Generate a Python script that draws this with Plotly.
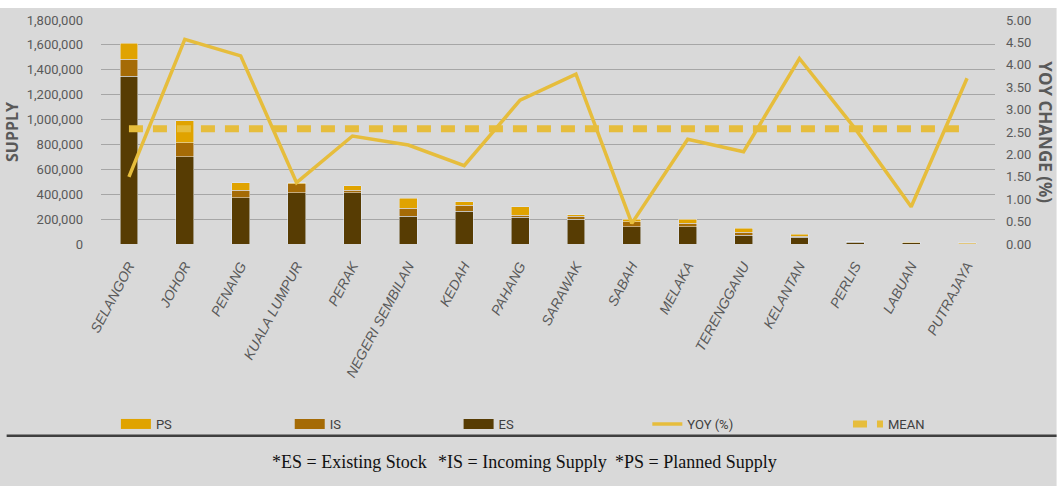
import plotly.graph_objects as go

states = ["SELANGOR", "JOHOR", "PENANG", "KUALA LUMPUR", "PERAK", "NEGERI SEMBILAN",
          "KEDAH", "PAHANG", "SARAWAK", "SABAH", "MELAKA", "TERENGGANU",
          "KELANTAN", "PERLIS", "LABUAN", "PUTRAJAYA"]
es = [1350000, 700000, 372000, 412000, 412000, 225000, 265000, 215000,
      200000, 140000, 140000, 72000, 54000, 15000, 10000, 3000]
is_ = [135000, 115000, 60000, 73000, 20000, 62000, 48000, 18000,
       25000, 40000, 27000, 22000, 10000, 3000, 2000, 1000]
ps = [130000, 175000, 62000, 8000, 35000, 80000, 27000, 67000,
      10000, 18000, 30000, 32000, 16000, 2000, 1000, 5000]
yoy = [1.50, 4.57, 4.20, 1.37, 2.41, 2.21, 1.75, 3.21,
       3.79, 0.46, 2.34, 2.06, 4.14, 2.57, 0.83, 3.70]
mean_value = 2.57
left_ticks = [0, 200000, 400000, 600000, 800000, 1000000, 1200000, 1400000, 1600000, 1800000]
right_ticks = [0, 0.5, 1, 1.5, 2, 2.5, 3, 3.5, 4, 4.5, 5]

C_PS = "#e0a300"
C_IS = "#a56b06"
C_ES = "#573c03"
C_LINE = "#e6bd3c"
GRAY = "#595959"
NARROW = "Liberation Sans Narrow, Arial Narrow, Roboto, sans-serif"

fig = go.Figure()
fig.add_trace(go.Bar(x=states, y=es, name="ES", marker_color=C_ES, showlegend=False))
fig.add_trace(go.Bar(x=states, y=is_, name="IS", marker_color=C_IS, showlegend=False))
fig.add_trace(go.Bar(x=states, y=ps, name="PS", marker_color=C_PS, showlegend=False))
fig.add_trace(go.Scatter(x=states, y=yoy, name="YOY (%)", mode="lines",
                         line=dict(color=C_LINE, width=3.5), yaxis="y2", legend="legend4"))
fig.add_trace(go.Scatter(x=states, y=[mean_value] * len(states), name="MEAN", mode="lines",
                         line=dict(color=C_LINE, width=7, dash="14px,10px"),
                         yaxis="y2", legend="legend5"))
# legend proxies for the bar series (wide flat swatches)
for nm, col, lg in [("PS", C_PS, "legend"), ("IS", C_IS, "legend2"), ("ES", C_ES, "legend3")]:
    fig.add_trace(go.Scatter(x=[None], y=[None], name=nm, mode="lines",
                             line=dict(color=col, width=10), legend=lg))

W0, W1, T0, T1 = 95, 995, 20, 244
def px(x):
    return (x - W0) / (W1 - W0)
def py(y):
    return (T1 - y) / (T1 - T0)

def leg(xpix):
    return dict(orientation="h", x=px(xpix - 10), y=py(424), xanchor="left", yanchor="middle",
                bgcolor="rgba(0,0,0,0)",
                font=dict(family=NARROW, size=13, color="#404040"))

foot_font = dict(family="Liberation Serif, Times New Roman", size=18, color="#111111")

fig.update_layout(
    width=1064, height=486,
    margin=dict(l=W0, r=1064 - W1, t=T0, b=486 - T1),
    paper_bgcolor="#d9d9d9", plot_bgcolor="#d9d9d9",
    barmode="stack", bargap=0.68,
    font=dict(family=NARROW, color=GRAY),
    xaxis=dict(tickangle=-62, tickvals=states,
               ticktext=["<i>" + s + "</i>" for s in states],
               tickfont=dict(family="Liberation Sans, Arial", size=14, color=GRAY),
               showgrid=False, showline=False, ticks="", ticklabelstandoff=10,
               range=[-0.5, 15.5]),
    yaxis=dict(range=[0, 1800000], tickvals=left_ticks, tickformat=",d",
               gridcolor="#a6a6a6", gridwidth=1, zeroline=False, showline=False,
               tickfont=dict(family=NARROW, size=13, color=GRAY), ticklabelstandoff=17,
               title=dict(text="<b>SUPPLY</b>", font=dict(family="Open Sans, Arial",
                                                          size=16, color=GRAY), standoff=4)),
    yaxis2=dict(range=[0, 5], tickvals=right_ticks, tickformat=".2f", overlaying="y",
                side="right", showgrid=False, zeroline=False, showline=False,
                tickfont=dict(family=NARROW, size=13, color=GRAY), ticklabelstandoff=10),
    legend=leg(120), legend2=leg(295), legend3=leg(465), legend4=leg(655), legend5=leg(857),
    shapes=[
        dict(type="rect", xref="paper", yref="paper", x0=px(-10), x1=px(1080),
             y0=py(8), y1=py(-10), fillcolor="white", line_width=0, layer="below"),
        dict(type="rect", xref="paper", yref="paper", x0=px(1057), x1=px(1080),
             y0=py(-10), y1=py(500), fillcolor="white", line_width=0, layer="below"),
        dict(type="line", xref="paper", yref="paper", x0=px(0), x1=px(1057),
             y0=py(435.7), y1=py(435.7), line=dict(color="#3f3f3f", width=2.5)),
    ],
    annotations=[
        dict(text="<b>YOY CHANGE (%)</b>", xref="paper", yref="paper", x=px(1046), y=py(132),
             textangle=90, showarrow=False, xanchor="center", yanchor="middle",
             font=dict(family="Open Sans, Arial", size=17, color=GRAY)),
        dict(text="*ES = Existing Stock", xref="paper", yref="paper", x=px(345), y=py(462),
             showarrow=False, xanchor="center", yanchor="middle", font=foot_font),
        dict(text="*IS = Incoming Supply", xref="paper", yref="paper", x=px(519), y=py(462),
             showarrow=False, xanchor="center", yanchor="middle", font=foot_font),
        dict(text="*PS = Planned Supply", xref="paper", yref="paper", x=px(693.5), y=py(462),
             showarrow=False, xanchor="center", yanchor="middle", font=foot_font),
    ],
)

fig.write_html("out.html")
